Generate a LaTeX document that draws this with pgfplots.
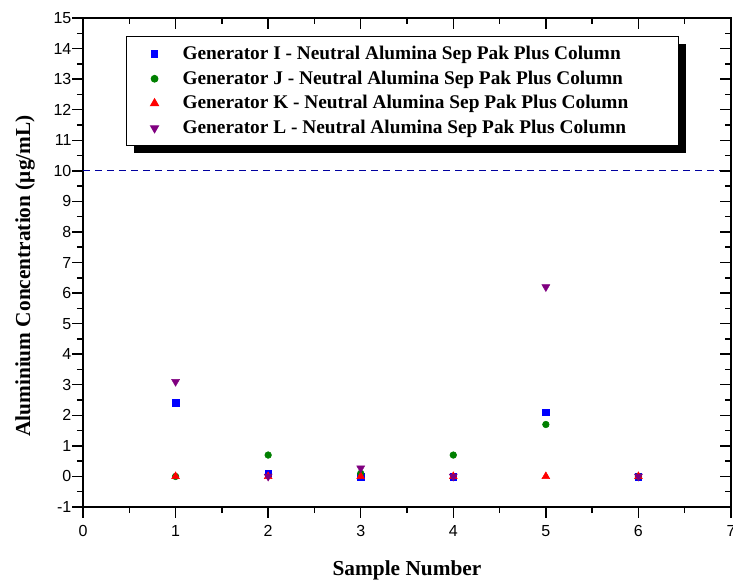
\documentclass[border=0pt]{standalone}
\usepackage{fontspec}
\setmainfont{Liberation Serif}
\setsansfont{Liberation Sans}
\usepackage{pgfplots}
\pgfplotsset{compat=1.18}
\usetikzlibrary{shadows}
\definecolor{cI}{RGB}{0,0,255}
\definecolor{cJ}{RGB}{0,128,0}
\definecolor{cK}{RGB}{255,0,0}
\definecolor{cL}{RGB}{128,0,128}
\definecolor{cLim}{RGB}{0,0,160}

\pgfplotsset{
  frame/.style={
    scale only axis, width=486pt, height=366.75pt,
    xmin=0, xmax=7, ymin=-1, ymax=15,
    xtick={0,...,7}, ytick={-1,0,...,15},
    minor x tick num=1, minor y tick num=1,
    axis line style={line width=1.4pt},
    major tick length=8pt, minor tick length=4.5pt,
    every tick/.style={black, line width=1.1pt},
  },
}
\newcommand{\entry}[1]{\makebox[372pt][l]{#1}}

\begin{document}
\begin{tikzpicture}
\begin{axis}[
    frame, name=main,
    tick align=outside,
    xtick pos=bottom, ytick pos=left,
    ticklabel style={font=\sffamily\fontsize{12}{14}\selectfont},
    xticklabel style={yshift=-2.5pt},
    yticklabel style={inner xsep=0.5pt},
    /pgf/number format/assume math mode=true,
    xlabel={Sample Number},
    ylabel={Aluminium Concentration (μg/mL)},
    every axis x label/.style={at={(axis description cs:0.5,0)}, yshift=-47.25pt,
        anchor=center, font=\bfseries\fontsize{16}{18}\selectfont},
    every axis y label/.style={at={(axis description cs:0,0.4724)}, xshift=-43.5pt,
        rotate=90, anchor=center, font=\bfseries\fontsize{16}{18}\selectfont},
    legend style={at={(axis description cs:0.0664,0.963)}, anchor=north west,
                  draw=black, line width=0.8pt, fill=white,
                  drop shadow={shadow xshift=5.5pt, shadow yshift=-5.5pt, opacity=1, fill=black},
                  font=\bfseries\fontsize{14.5}{17}\selectfont,
                  nodes={inner sep=0pt, text height=11.5pt, text depth=3.5pt},
                  row sep=3.5pt, inner xsep=0pt, inner ysep=5.6pt},
    legend cell align=left,
    legend image code/.code={%
        \pgfpathrectangle{\pgfpoint{-21pt}{-3pt}}{\pgfpoint{42pt}{6pt}}\pgfusepath{}%
        \draw[#1] plot coordinates {(0pt,0pt)};},
]

% threshold 10 ug/mL
\addplot[cLim, line width=1pt, dash pattern=on 5.25pt off 3.75pt, forget plot]
    coordinates {(0,10) (7,10)};

\addplot[only marks, mark=square*, mark size=2.5pt, color=cI, mark options={draw=none}]
    coordinates {(1,2.4) (2,0.1) (3,0) (4,0) (5,2.1) (6,0)};
\addlegendentry{\entry{Generator I - Neutral Alumina Sep Pak Plus Column}}

\addplot[only marks, mark=*, mark size=2.5pt, color=cJ, mark options={draw=none}]
    coordinates {(1,0) (2,0.7) (3,0.1) (4,0.7) (5,1.7) (6,0)};
\addlegendentry{\entry{Generator J - Neutral Alumina Sep Pak Plus Column}}

\addplot[only marks, mark=triangle*, mark size=3.4pt, color=cK, mark options={draw=none}]
    coordinates {(1,0) (2,0) (3,0) (4,0) (5,0) (6,0)};
\addlegendentry{\entry{Generator K - Neutral Alumina Sep Pak Plus Column}}

\addplot[only marks, mark=triangle*, mark size=3.4pt, color=cL, mark options={draw=none, rotate=180}]
    coordinates {(1,3.1) (2,0) (3,0.27) (4,0) (5,6.2) (6,0)};
\addlegendentry{\entry{Generator L - Neutral Alumina Sep Pak Plus Column}}

\end{axis}

% mirrored ticks, pointing in, on top and right
\begin{axis}[
    frame,
    tick align=inside,
    xtick pos=top, ytick pos=right,
    xticklabels={}, yticklabels={},
    axis line style={draw=none},
]
\end{axis}

\pgfresetboundingbox
\path[use as bounding box] ([shift={(-62.25pt,-56.25pt)}]main.south west)
    rectangle ([shift={(1.5pt,13.5pt)}]main.north east);
\end{tikzpicture}
\end{document}
